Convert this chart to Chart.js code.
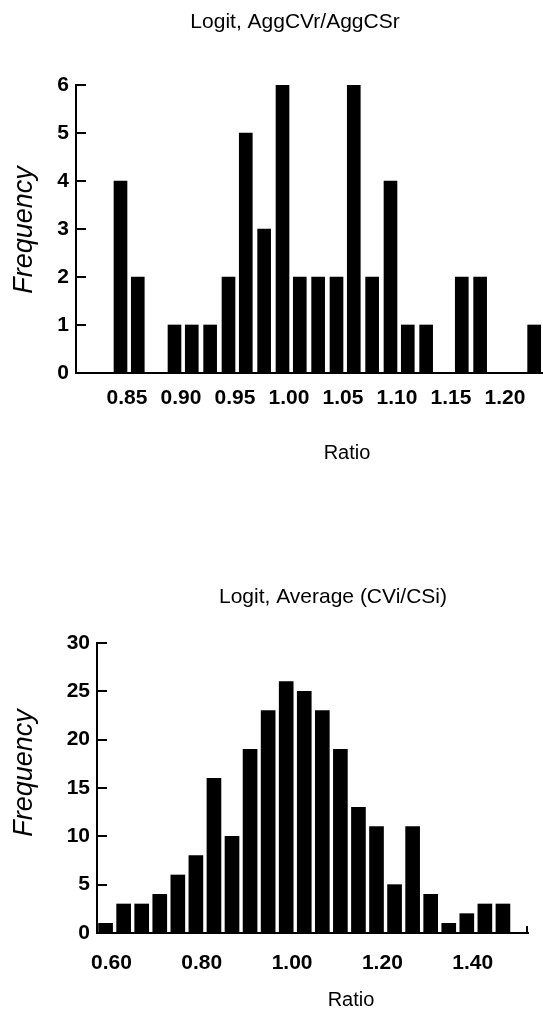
<!DOCTYPE html>
<html>
<head>
<meta charset="utf-8">
<script src="https://cdn.jsdelivr.net/npm/chart.js@4/dist/chart.umd.min.js"></script>
<style>
  html, body { margin: 0; padding: 0; background: #fff; }
  body { width: 543px; height: 1023px; position: relative; overflow: hidden; }
  .wrap { position: absolute; left: 0; width: 543px; }
  #top-wrap { top: 0; height: 480px; }
  #bot-wrap { top: 520px; height: 503px; }
</style>
</head>
<body>
<div class="wrap" id="top-wrap"><canvas id="top-chart" width="543" height="480"></canvas></div>
<div class="wrap" id="bot-wrap"><canvas id="bot-chart" width="543" height="503"></canvas></div>
<script>
/* ===== Ratio histograms ===== */

// top panel: Logit, AggCVr/AggCSr  (bin centres)
const topBins = [0.844, 0.860, 0.877, 0.894, 0.910, 0.927, 0.944, 0.960, 0.977, 0.994,
                 1.010, 1.027, 1.044, 1.060, 1.077, 1.094, 1.110, 1.127, 1.144, 1.160,
                 1.177, 1.194, 1.210, 1.227];
const topFreq = [4, 2, 0, 1, 1, 1, 2, 5, 3, 6,
                 2, 2, 2, 6, 2, 4, 1, 1, 0, 2,
                 2, 0, 0, 1];
const topXTicks = [0.85, 0.90, 0.95, 1.00, 1.05, 1.10, 1.15, 1.20];
const topYTicks = [0, 1, 2, 3, 4, 5, 6];

// bottom panel: Logit, Average (CVi/CSi)
const botBins = [0.587, 0.627, 0.667, 0.707, 0.747, 0.787, 0.827, 0.867, 0.907, 0.947,
                 0.987, 1.027, 1.067, 1.107, 1.147, 1.187, 1.227, 1.267, 1.307, 1.347,
                 1.387, 1.427, 1.467];
const botFreq = [1, 3, 3, 4, 6, 8, 16, 10, 19, 23,
                 26, 25, 23, 19, 13, 11, 5, 11, 4, 1,
                 2, 3, 3];
const botXTicks = [0.60, 0.80, 1.00, 1.20, 1.40];
const botYTicks = [0, 5, 10, 15, 20, 25, 30];

const FONT = "'Liberation Sans', Arial, Helvetica, sans-serif";

// inward y ticks, titles and axis labels
const decorPlugin = {
  id: 'decor',
  afterDraw(chart, args, o) {
    const { ctx, chartArea: a, scales: { x, y } } = chart;
    ctx.save();
    ctx.strokeStyle = '#000';
    ctx.lineWidth = 2;
    ctx.beginPath();
    y.ticks.forEach(t => {
      const py = Math.round(y.getPixelForValue(t.value));
      ctx.moveTo(a.left, py);
      ctx.lineTo(a.left + 10, py);
    });
    if (o.endTick) {
      ctx.moveTo(a.right - 1, a.bottom);
      ctx.lineTo(a.right - 1, a.bottom - 7);
    }
    ctx.stroke();

    ctx.fillStyle = '#000';
    ctx.textAlign = 'center';
    ctx.textBaseline = 'middle';
    ctx.font = `21px ${FONT}`;
    ctx.fillText(o.title, o.titleX, o.titleY);
    ctx.font = `20px ${FONT}`;
    ctx.fillText('Ratio', o.ratioX, o.ratioY);
    ctx.translate(24, o.freqY);
    ctx.rotate(-Math.PI / 2);
    ctx.font = `italic 27px ${FONT}`;
    ctx.fillText('Frequency', 0, 0);
    ctx.restore();
  }
};

function makeHist(id, bins, freq, xTicks, yTicks, cfg) {
  const ctx = document.getElementById(id).getContext('2d');
  return new Chart(ctx, {
    type: 'bar',
    data: {
      datasets: [{
        data: bins.map((b, i) => ({ x: b, y: freq[i] })),
        backgroundColor: '#000',
        borderWidth: 0,
        barThickness: cfg.barW
      }]
    },
    plugins: [decorPlugin],
    options: {
      responsive: false,
      animation: false,
      layout: { padding: cfg.pad },
      plugins: {
        legend: { display: false },
        tooltip: { enabled: false },
        decor: cfg.decor
      },
      scales: {
        x: {
          type: 'linear',
          min: cfg.xMin,
          max: cfg.xMax,
          offset: false,
          grid: { display: false },
          border: { display: true, color: '#000', width: 2 },
          afterBuildTicks: s => { s.ticks = xTicks.map(v => ({ value: v })); },
          afterFit: s => { s.height = 60; },
          ticks: {
            color: '#000',
            font: { family: FONT, size: 21, weight: 'bold' },
            padding: cfg.xPad,
            maxRotation: 0,
            autoSkip: false,
            callback: v => v.toFixed(2)
          }
        },
        y: {
          min: yTicks[0],
          max: yTicks[yTicks.length - 1],
          grid: { display: false, drawTicks: false },
          border: { display: true, color: '#000', width: 2 },
          afterBuildTicks: s => { s.ticks = yTicks.map(v => ({ value: v })); },
          afterFit: s => { s.width = cfg.yW; },
          ticks: {
            color: '#000',
            font: { family: FONT, size: 21, weight: 'bold' },
            padding: 7
          }
        }
      }
    }
  });
}

makeHist('top-chart', topBins, topFreq, topXTicks, topYTicks, {
  barW: 13,
  xMin: 0.8028, xMax: 1.2352,
  yW: 76, xPad: 5,
  pad: { left: 0, right: 0, top: 85, bottom: 47 },
  decor: { title: 'Logit, AggCVr/AggCSr', titleX: 295, titleY: 22,
           ratioX: 347, ratioY: 453, freqY: 230, endTick: false }
});

makeHist('bot-chart', botBins, botFreq, botXTicks, botYTicks, {
  barW: 14,
  xMin: 0.568, xMax: 1.5225,
  yW: 97, xPad: 10,
  pad: { left: 0, right: 15, top: 123, bottom: 30 },
  decor: { title: 'Logit, Average (CVi/CSi)', titleX: 333, titleY: 77,
           ratioX: 351, ratioY: 480, freqY: 253, endTick: true }
});
</script>
</body>
</html>
